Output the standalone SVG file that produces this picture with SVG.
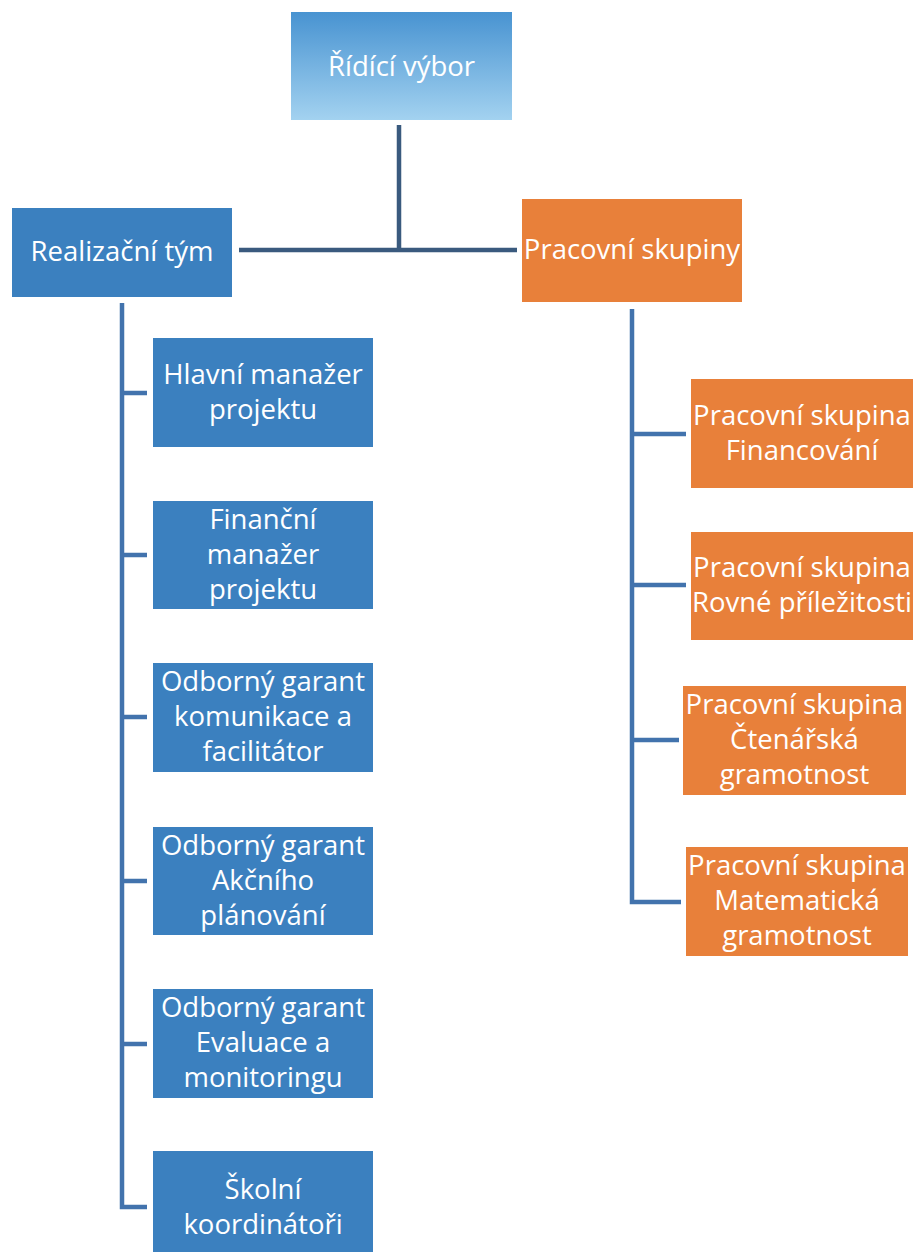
<svg xmlns="http://www.w3.org/2000/svg" width="913" height="1254" viewBox="0 0 913 1254">
<defs>
<linearGradient id="topGrad" x1="0" y1="0" x2="0" y2="1">
<stop offset="0" stop-color="#4893d1"/>
<stop offset="1" stop-color="#a3d2f0"/>
</linearGradient>
</defs>
<style>
.blue{fill:#3b80bf}
.orange{fill:#e8803a}
.t{font-family:"Open Sans","Noto Sans","DejaVu Sans",sans-serif;font-size:27.5px;fill:#ffffff;text-anchor:middle}
.conn{stroke:#3a5a7e;stroke-width:4.5;fill:none}
.trunk{stroke:#4273ad;stroke-width:4.5;fill:none}
</style>
<rect width="913" height="1254" fill="#ffffff"/>
<g id="connectors">
<path class="conn" d="M399,125 V250 M239,250 H517"/>
<path class="trunk" d="M122,303 V1207 H147 M122,393 H147 M122,555 H147 M122,717 H147 M122,881 H147 M122,1044 H147"/>
<path class="trunk" d="M632,309 V902 H681 M632,434 H686 M632,585 H686 M632,740 H679"/>
</g>
<g id="ridici-vybor">
<rect x="291" y="12" width="221" height="108" fill="url(#topGrad)"/>
<text class="t" x="401.5" y="76">Řídící výbor</text>
</g>
<g id="realizacni-tym">
<rect class="blue" x="12" y="208" width="220" height="89"/>
<text class="t" x="122" y="261">Realizační tým</text>
</g>
<g id="pracovni-skupiny">
<rect class="orange" x="522" y="199" width="220" height="103"/>
<text class="t" x="632" y="259">Pracovní skupiny</text>
</g>
<g id="hlavni-manazer">
<rect class="blue" x="153" y="338" width="220" height="109"/>
<text class="t" x="263" y="384">Hlavní manažer</text>
<text class="t" x="263" y="419">projektu</text>
</g>
<g id="financni-manazer">
<rect class="blue" x="153" y="501" width="220" height="108"/>
<text class="t" x="263" y="529">Finanční</text>
<text class="t" x="263" y="564">manažer</text>
<text class="t" x="263" y="599">projektu</text>
</g>
<g id="garant-komunikace">
<rect class="blue" x="153" y="663" width="220" height="109"/>
<text class="t" x="263" y="691">Odborný garant</text>
<text class="t" x="263" y="726">komunikace a</text>
<text class="t" x="263" y="761">facilitátor</text>
</g>
<g id="garant-akcniho">
<rect class="blue" x="153" y="827" width="220" height="108"/>
<text class="t" x="263" y="855">Odborný garant</text>
<text class="t" x="263" y="890">Akčního</text>
<text class="t" x="263" y="925">plánování</text>
</g>
<g id="garant-evaluace">
<rect class="blue" x="153" y="989" width="220" height="109"/>
<text class="t" x="263" y="1017">Odborný garant</text>
<text class="t" x="263" y="1052">Evaluace a</text>
<text class="t" x="263" y="1087">monitoringu</text>
</g>
<g id="skolni-koordinatori">
<rect class="blue" x="153" y="1151" width="220" height="101"/>
<text class="t" x="263" y="1199">Školní</text>
<text class="t" x="263" y="1234">koordinátoři</text>
</g>
<g id="ps-financovani">
<rect class="orange" x="691" y="379" width="222" height="109"/>
<text class="t" x="802" y="425">Pracovní skupina</text>
<text class="t" x="802" y="460">Financování</text>
</g>
<g id="ps-rovne">
<rect class="orange" x="691" y="532" width="222" height="108"/>
<text class="t" x="802" y="577">Pracovní skupina</text>
<text class="t" x="802" y="612">Rovné příležitosti</text>
</g>
<g id="ps-ctenarska">
<rect class="orange" x="683" y="686" width="223" height="109"/>
<text class="t" x="794.5" y="714">Pracovní skupina</text>
<text class="t" x="794.5" y="749">Čtenářská</text>
<text class="t" x="794.5" y="784">gramotnost</text>
</g>
<g id="ps-matematicka">
<rect class="orange" x="686" y="847" width="222" height="109"/>
<text class="t" x="797" y="875">Pracovní skupina</text>
<text class="t" x="797" y="910">Matematická</text>
<text class="t" x="797" y="945">gramotnost</text>
</g>
</svg>
